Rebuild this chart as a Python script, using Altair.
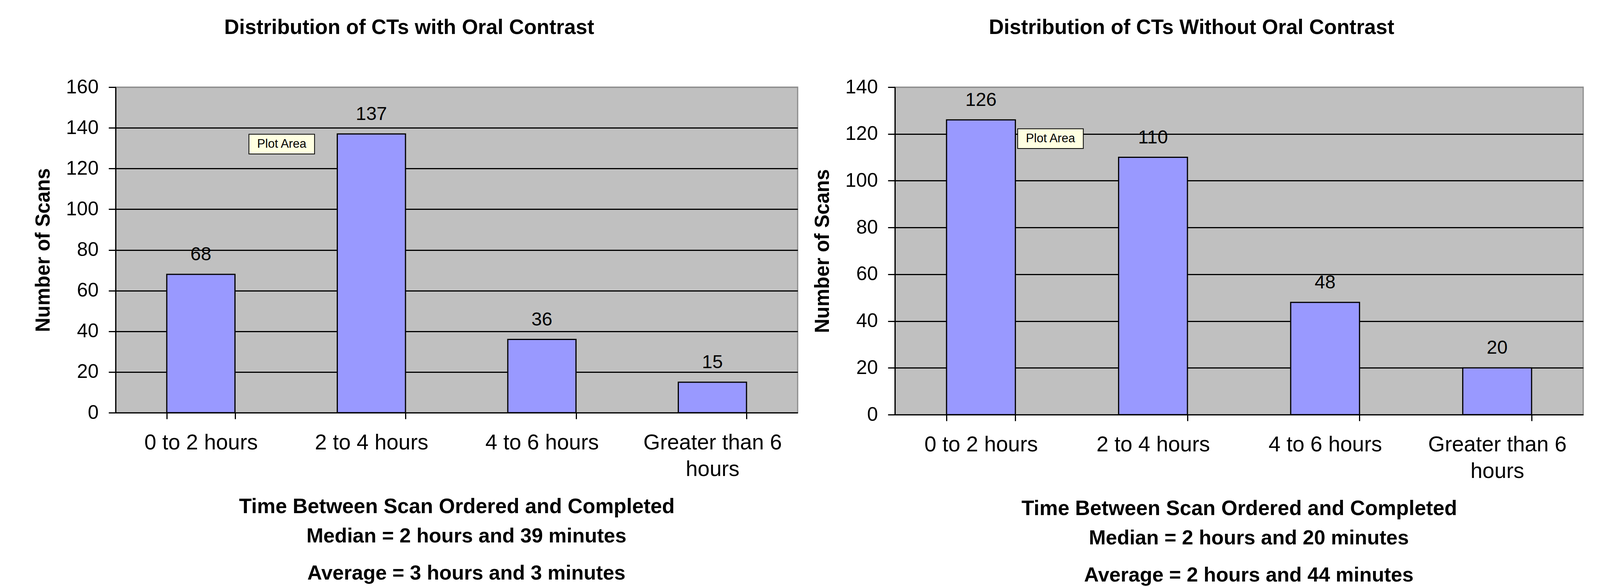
import altair as alt
import pandas as pd

categories = ["0 to 2 hours", "2 to 4 hours", "4 to 6 hours", "Greater than 6 hours"]
with_oral = [68, 137, 36, 15]
without_oral = [126, 110, 48, 20]
chart_titles = ["Distribution of CTs with Oral Contrast",
                "Distribution of CTs Without Oral Contrast"]
x_title = "Time Between Scan Ordered and Completed"
y_title = "Number of Scans"
medians = ["Median = 2 hours and 39 minutes", "Median = 2 hours and 20 minutes"]
averages = ["Average = 3 hours and 3 minutes", "Average = 2 hours and 44 minutes"]
y_max = [160, 140]
wrapped_label = ["Greater than 6", "hours"]
tip_text = "Plot Area"
tip_category = ["0 to 2 hours", "0 to 2 hours"]
tip_value = [132, 118]

FONT = "Liberation Sans"


def panel(values, title, ymax, median, average, tcat, tval, tdx, width, height):
    df = pd.DataFrame({"cat": categories, "n": values})
    label_expr = ("datum.label == '%s' ? ['%s', '%s'] : datum.label"
                  % (categories[3], wrapped_label[0], wrapped_label[1]))
    x = alt.X("cat:N", sort=categories,
              scale=alt.Scale(paddingInner=0.6, paddingOuter=0.3),
              axis=alt.Axis(title=x_title, tickBand="extent", labelAngle=0,
                            labelExpr=label_expr, labelLineHeight=68,
                            labelFontSize=55, labelFont=FONT, labelColor="black",
                            labelLimit=1000, labelPadding=34, tickSize=16,
                            tickWidth=3, tickColor="black", domainColor="black",
                            domainWidth=3, grid=False,
                            titleFontSize=53, titleFont=FONT, titleFontWeight="bold",
                            titleColor="black", titleY=240, titleBaseline="middle"))
    y = alt.Y("n:Q", scale=alt.Scale(domain=[0, ymax], nice=False),
              axis=alt.Axis(title=y_title, values=list(range(0, ymax + 1, 20)),
                            labelFontSize=50, labelFont=FONT, labelColor="black",
                            labelPadding=26, tickSize=18, tickWidth=3,
                            tickColor="black", domainColor="black", domainWidth=3,
                            grid=True, gridWidth=3,
                            gridColor={"condition": {"test": "datum.value == %d" % ymax,
                                                     "value": "#8c8c8c"},
                                       "value": "black"},
                            titleFontSize=51, titleFont=FONT, titleFontWeight="bold",
                            titleColor="black", titleX=-185, titleBaseline="middle"))
    bars = alt.Chart(df).mark_bar(fill="#9999FF", stroke="black", strokeWidth=3).encode(x=x, y=y)
    nums = alt.Chart(df).mark_text(dy=-50, fontSize=48, font=FONT, color="black").encode(
        x=alt.X("cat:N", sort=categories), y="n:Q", text="n:Q")
    tip_df = pd.DataFrame({"cat": [tcat], "v": [tval], "t": [tip_text]})
    tip_box = alt.Chart(tip_df).mark_point(
        shape="M-1,-0.3L1,-0.3L1,0.3L-1,0.3Z", size=28224, filled=True,
        fill="#FFFFE1", stroke="black", strokeWidth=2, opacity=1, xOffset=tdx).encode(
        x=alt.X("cat:N", sort=categories), y="v:Q")
    tip_lbl = alt.Chart(tip_df).mark_text(fontSize=31, font=FONT, color="black",
                                          xOffset=tdx).encode(
        x=alt.X("cat:N", sort=categories), y="v:Q", text="t:N")
    med = alt.Chart(pd.DataFrame({"t": [median]})).mark_text(
        fontSize=52, font=FONT, fontWeight="bold", color="black", baseline="middle").encode(
        x=alt.value(width / 2 + 25), y=alt.value(height + 316), text="t:N")
    avg = alt.Chart(pd.DataFrame({"t": [average]})).mark_text(
        fontSize=52, font=FONT, fontWeight="bold", color="black", baseline="middle").encode(
        x=alt.value(width / 2 + 25), y=alt.value(height + 411), text="t:N")
    return alt.layer(bars, nums, tip_box, tip_lbl, med, avg).properties(
        width=width, height=height,
        title=alt.TitleParams(title, fontSize=53, font=FONT, fontWeight="bold",
                              color="black", offset=100, frame="bounds", dx=-16))


left = panel(with_oral, chart_titles[0], y_max[0], medians[0], averages[0],
             tip_category[0], tip_value[0], 207, 1746, 833)
right = panel(without_oral, chart_titles[1], y_max[1], medians[1], averages[1],
              tip_category[1], tip_value[1], 178, 1762, 838)

chart = alt.hconcat(left, right, spacing=34).properties(
    padding={"left": 75, "top": 35, "right": 5, "bottom": 5},
    background="white"
).configure_view(fill="#C0C0C0", stroke="#8c8c8c", strokeWidth=3)

chart.save("out.html", embed_options={"renderer": "svg", "actions": False})
